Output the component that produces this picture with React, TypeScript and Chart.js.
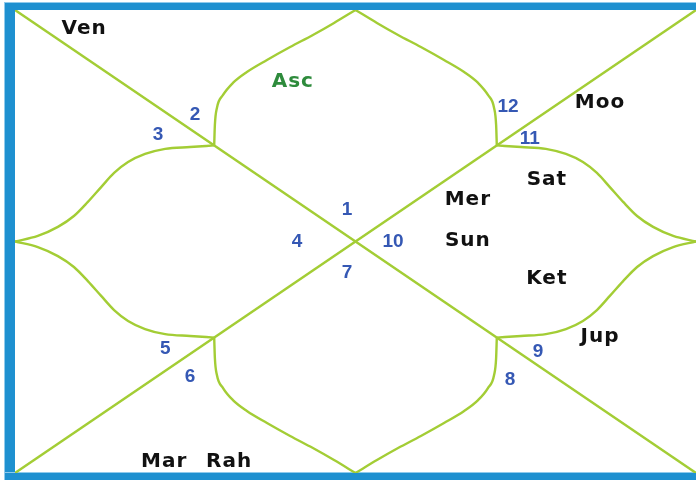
import React, { useEffect, useRef } from 'react';
import { Chart, registerables } from 'chart.js';

Chart.register(...registerables);

// Chart geometry in a normalized frame: x and y run from -1 to 1, centre at 0,0
const diagonalA = [[-1, 1], [1, -1]];
const diagonalB = [[-1, -1], [1, 1]];

const topLotusLeft = [[-0.415, 0.415], [-0.413, 0.503], [-0.407, 0.577], [-0.389, 0.633], [-0.36, 0.685], [-0.319, 0.732], [-0.26, 0.784], [-0.192, 0.84], [-0.125, 0.892], [-0.063, 0.944], [0, 1]];
const topLotusRight = [[0.415, 0.415], [0.413, 0.503], [0.407, 0.577], [0.389, 0.633], [0.36, 0.685], [0.319, 0.732], [0.26, 0.784], [0.192, 0.84], [0.125, 0.892], [0.063, 0.944], [0, 1]];
const bottomLotusLeft = [[-0.415, -0.415], [-0.413, -0.503], [-0.407, -0.577], [-0.389, -0.633], [-0.36, -0.685], [-0.319, -0.732], [-0.26, -0.784], [-0.192, -0.84], [-0.125, -0.892], [-0.063, -0.944], [0, -1]];
const bottomLotusRight = [[0.415, -0.415], [0.413, -0.503], [0.407, -0.577], [0.389, -0.633], [0.36, -0.685], [0.319, -0.732], [0.26, -0.784], [0.192, -0.84], [0.125, -0.892], [0.063, -0.944], [0, -1]];
const leftLotusUpper = [[-0.415, 0.415], [-0.486, 0.408], [-0.559, 0.4], [-0.618, 0.378], [-0.668, 0.343], [-0.709, 0.296], [-0.747, 0.235], [-0.786, 0.171], [-0.827, 0.11], [-0.874, 0.063], [-0.933, 0.024], [-1, 0]];
const leftLotusLower = [[-0.415, -0.415], [-0.486, -0.408], [-0.559, -0.4], [-0.618, -0.378], [-0.668, -0.343], [-0.709, -0.296], [-0.747, -0.235], [-0.786, -0.171], [-0.827, -0.11], [-0.874, -0.063], [-0.933, -0.024], [-1, 0]];
const rightLotusUpper = [[0.415, 0.415], [0.486, 0.408], [0.559, 0.4], [0.618, 0.378], [0.668, 0.343], [0.709, 0.296], [0.747, 0.235], [0.786, 0.171], [0.827, 0.11], [0.874, 0.063], [0.933, 0.024], [1, 0]];
const rightLotusLower = [[0.415, -0.415], [0.486, -0.408], [0.559, -0.4], [0.618, -0.378], [0.668, -0.343], [0.709, -0.296], [0.747, -0.235], [0.786, -0.171], [0.827, -0.11], [0.874, -0.063], [0.933, -0.024], [1, 0]];

const planetNames = ['Ven', 'Moo', 'Sat', 'Mer', 'Sun', 'Ket', 'Jup', 'Mar', 'Rah'];
const planetX = [-0.797, 0.718, 0.562, 0.33, 0.33, 0.562, 0.718, -0.562, -0.371];
const planetY = [0.927, 0.607, 0.274, 0.188, 0.011, -0.153, -0.404, -0.944, -0.944];

const ascNames = ['Asc'];
const ascX = [-0.184];
const ascY = [0.698];

const houseNumbers = ['1', '2', '3', '4', '5', '6', '7', '8', '9', '10', '11', '12'];
const houseX = [-0.025, -0.471, -0.58, -0.172, -0.559, -0.486, -0.025, 0.454, 0.536, 0.11, 0.512, 0.448];
const houseY = [0.145, 0.555, 0.469, 0.006, -0.456, -0.577, -0.127, -0.59, -0.469, 0.006, 0.451, 0.59];

const LINE = '#a3cd35';
const FRAME = '#1e90d0';

const curves = [diagonalA, diagonalB, topLotusLeft, topLotusRight, bottomLotusLeft, bottomLotusRight, leftLotusUpper, leftLotusLower, rightLotusUpper, rightLotusLower];

const framePlugin = {
  id: 'frame',
  beforeDraw(chart: any) {
    const { ctx, chartArea: a, width, height } = chart;
    ctx.save();
    ctx.fillStyle = '#ffffff';
    ctx.fillRect(0, 0, width, height);
    ctx.fillStyle = FRAME;
    ctx.fillRect(a.left - 10, a.top - 7, 10, height);
    ctx.fillRect(a.left - 10, a.top - 7, width, 7);
    ctx.fillRect(a.left - 10, a.bottom, width, 7);
    ctx.fillStyle = '#8fcaec';
    ctx.fillRect(a.left - 11, a.top - 8, 1, height);
    ctx.fillRect(a.left - 11, a.top - 8, width, 1);
    ctx.fillRect(a.left - 11, a.bottom - 1, width, 1);
    ctx.restore();
  },
};

function drawLabels(chart: any, names: string[], xs: number[], ys: number[], font: string, color: string, capH: number, spacing: string) {
  const { ctx, scales } = chart;
  ctx.save();
  ctx.font = font;
  ctx.fillStyle = color;
  ctx.textAlign = 'center';
  ctx.textBaseline = 'alphabetic';
  try { (ctx as any).letterSpacing = spacing; } catch (e) { /* ignore */ }
  names.forEach((n, i) => {
    const px = scales.x.getPixelForValue(xs[i]);
    const py = scales.y.getPixelForValue(ys[i]);
    ctx.fillText(n, px, py + capH / 2);
  });
  ctx.restore();
}

const labelPlugin = {
  id: 'labels',
  afterDatasetsDraw(chart: any) {
    drawLabels(chart, planetNames, planetX, planetY, 'bold 20px "DejaVu Sans"', '#111111', 14.6, '1px');
    drawLabels(chart, ascNames, ascX, ascY, 'bold 20px "DejaVu Sans"', '#2e8b3c', 14.6, '1px');
    drawLabels(chart, houseNumbers, houseX, houseY, 'bold 19px "Liberation Sans"', '#3558b4', 13.6, '0px');
  },
};

export default function App() {
  const ref = useRef<HTMLCanvasElement | null>(null);
  useEffect(() => {
    if (!ref.current) return;
    const chart = new Chart(ref.current, {
      type: 'scatter',
      data: {
        datasets: curves.map((c) => ({
          data: c.map(([x, y]) => ({ x, y })),
          showLine: true,
          borderColor: LINE,
          borderWidth: 2.4,
          pointRadius: 0,
          cubicInterpolationMode: 'monotone',
          fill: false,
        })),
      },
      options: {
        responsive: false,
        maintainAspectRatio: false,
        animation: false,
        layout: { padding: { left: 15, top: 10, right: 0, bottom: 7 } },
        scales: {
          x: { type: 'linear', min: -1, max: 1, display: false },
          y: { type: 'linear', min: -1, max: 1, display: false },
        },
        plugins: { legend: { display: false }, tooltip: { enabled: false } },
      },
      plugins: [framePlugin, labelPlugin],
    } as any);
    return () => chart.destroy();
  }, []);
  return (
    <div style={{ position: 'fixed', left: 0, top: 0, width: 696, height: 480, background: '#fff' }}>
      <canvas ref={ref} width={696} height={480} style={{ display: 'block' }} />
    </div>
  );
}
